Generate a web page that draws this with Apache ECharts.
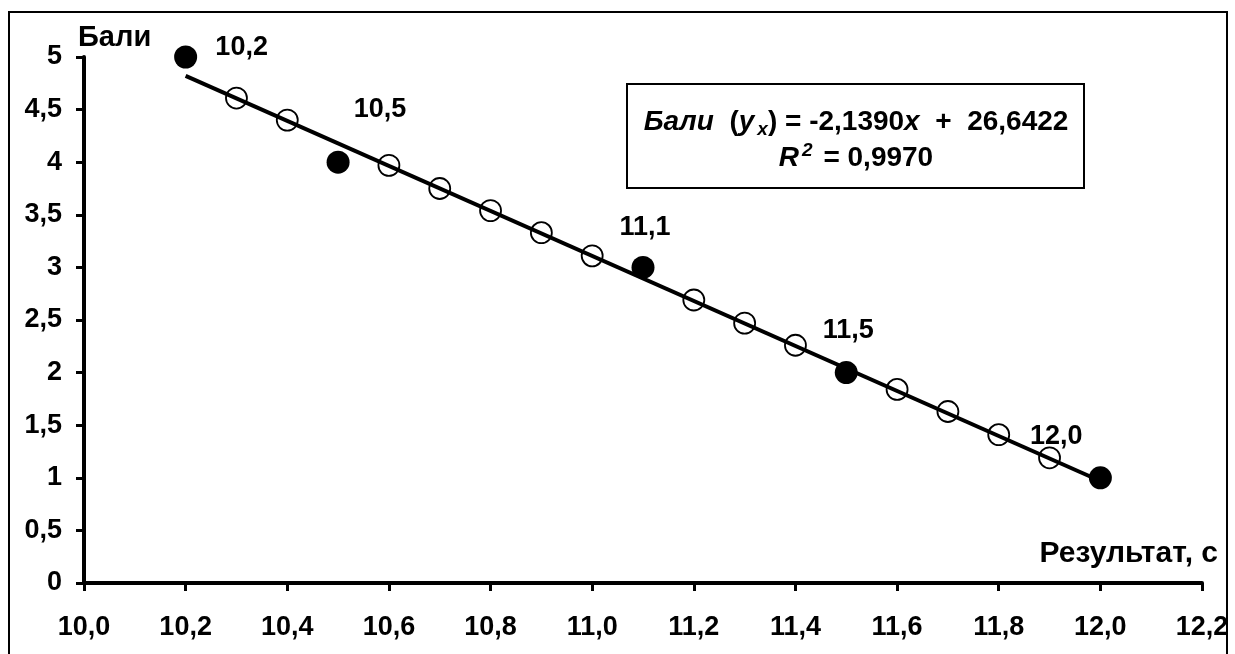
<!DOCTYPE html>
<html>
<head>
<meta charset="utf-8">
<script src="https://cdn.jsdelivr.net/npm/echarts@6/dist/echarts.min.js"></script>
<style>
html,body{margin:0;padding:0;background:#fff;}
#chart{width:1235px;height:654px;}
</style>
</head>
<body>
<div id="chart"></div>
<script>
// Data
var gradedX = [10.2, 10.5, 11.1, 11.5, 12.0];
var gradedY = [5, 4, 3, 2, 1];
var openX = [10.3, 10.4, 10.6, 10.7, 10.8, 10.9, 11.0, 11.2, 11.3, 11.4, 11.6, 11.7, 11.8, 11.9];
var openY = [4.61, 4.40, 3.97, 3.75, 3.54, 3.33, 3.11, 2.69, 2.47, 2.26, 1.84, 1.63, 1.41, 1.19];
var trendX = [10.2, 12.0];
var trendY = [4.82, 0.97];
var xTitle = 'Результат, с';
var yTitle = 'Бали';
var eqLine1 = '{bi|Бали}{b|  (}{bi|y}{sub|x}{b|) = -2,1390}{bi|x}{b|  +  26,6422}';
var eqLine2 = '{bi|R}{sup|2}{b| = 0,9970}';

var FONT = 'Liberation Sans, Arial, sans-serif';
var FS = 27;
function comma(v, d) { return v.toFixed(d).replace('.', ','); }

// label layout (offsets from point centre)
var labelOffsets = [[56, -9], [42, -53], [2, -40], [2, -42], [-44, -41]];

var gradedData = gradedX.map(function (x, i) {
  return { value: [x, gradedY[i]], label: { offset: labelOffsets[i] } };
});
var openData = openX.map(function (x, i) { return [x, openY[i]]; });
var trendData = trendX.map(function (x, i) { return [x, trendY[i]]; });

var chart = echarts.init(document.getElementById('chart'));
var option = {
  animation: false,
  backgroundColor: '#fff',
  grid: { left: 84, right: 33, top: 57, bottom: 71 },
  xAxis: {
    type: 'value', min: 10, max: 12.2, interval: 0.2,
    name: xTitle, nameLocation: 'end', nameGap: 16,
    nameTextStyle: { fontFamily: FONT, fontWeight: 'bold', fontSize: 30, color: '#000',
      align: 'right', verticalAlign: 'bottom', padding: [0, 0, 14, 0] },
    axisLine: { lineStyle: { color: '#000', width: 4 } },
    axisTick: { inside: false, length: 8, lineStyle: { color: '#000', width: 3 } },
    axisLabel: { margin: 31, fontFamily: FONT, fontWeight: 'bold', fontSize: FS, color: '#000',
      formatter: function (v) { return comma(v, 1); } },
    splitLine: { show: false }
  },
  yAxis: {
    type: 'value', min: 0, max: 5, interval: 0.5,
    name: yTitle, nameLocation: 'end', nameGap: 5,
    nameTextStyle: { fontFamily: FONT, fontWeight: 'bold', fontSize: 29, color: '#000',
      align: 'left', padding: [0, 0, 0, -6] },
    axisLine: { show: true, lineStyle: { color: '#000', width: 4 } },
    axisTick: { show: true, length: 8, lineStyle: { color: '#000', width: 3 } },
    axisLabel: { margin: 22, fontFamily: FONT, fontWeight: 'bold', fontSize: FS, color: '#000',
      formatter: function (v) { return comma(v, v % 1 === 0 ? 0 : 1); } },
    splitLine: { show: false }
  },
  series: [
    {
      type: 'scatter', data: openData, symbol: 'circle', symbolSize: 21, z: 2,
      itemStyle: { color: '#fff', borderColor: '#000', borderWidth: 1.8, opacity: 1 }
    },
    {
      type: 'line', data: trendData, symbol: 'none', z: 3,
      lineStyle: { color: '#000', width: 4 }
    },
    {
      type: 'scatter', data: gradedData, symbol: 'circle', symbolSize: 23, z: 4,
      itemStyle: { color: '#000', opacity: 1 },
      label: { show: true, position: 'inside', fontFamily: FONT, fontWeight: 'bold', fontSize: FS, color: '#000',
        formatter: function (p) { return comma(p.value[0], 1); } }
    }
  ],
  graphic: [
    { type: 'rect', shape: { x: 9, y: 12, width: 1218, height: 660 }, z: 0,
      style: { fill: 'none', stroke: '#000', lineWidth: 2 } },
    { type: 'rect', shape: { x: 627, y: 84, width: 457, height: 104 }, z: 10,
      style: { fill: '#fff', stroke: '#000', lineWidth: 2 } },
    { type: 'text', x: 856, y: 122, z: 11,
      style: { text: eqLine1, align: 'center', verticalAlign: 'middle', textAlign: 'center', textVerticalAlign: 'middle',
        fill: '#000', font: 'bold 28px ' + FONT,
        rich: {
          b: { fontFamily: FONT, fontWeight: 'bold', fontSize: 28, lineHeight: 34, verticalAlign: 'middle' },
          bi: { fontFamily: FONT, fontWeight: 'bold', fontStyle: 'italic', fontSize: 28, lineHeight: 34, verticalAlign: 'middle' },
          sub: { fontFamily: FONT, fontWeight: 'bold', fontStyle: 'italic', fontSize: 19, lineHeight: 34, verticalAlign: 'bottom', padding: [0, 0, 0, 3] }
        } } },
    { type: 'text', x: 856, y: 158, z: 11,
      style: { text: eqLine2, align: 'center', verticalAlign: 'middle', textAlign: 'center', textVerticalAlign: 'middle',
        fill: '#000', font: 'bold 28px ' + FONT,
        rich: {
          b: { fontFamily: FONT, fontWeight: 'bold', fontSize: 28, lineHeight: 34, verticalAlign: 'middle' },
          bi: { fontFamily: FONT, fontWeight: 'bold', fontStyle: 'italic', fontSize: 28, lineHeight: 34, verticalAlign: 'middle' },
          sup: { fontFamily: FONT, fontWeight: 'bold', fontStyle: 'italic', fontSize: 19, lineHeight: 34, verticalAlign: 'top', padding: [0, 3, 0, 3] }
        } } }
  ]
};
chart.setOption(option);
</script>
</body>
</html>
